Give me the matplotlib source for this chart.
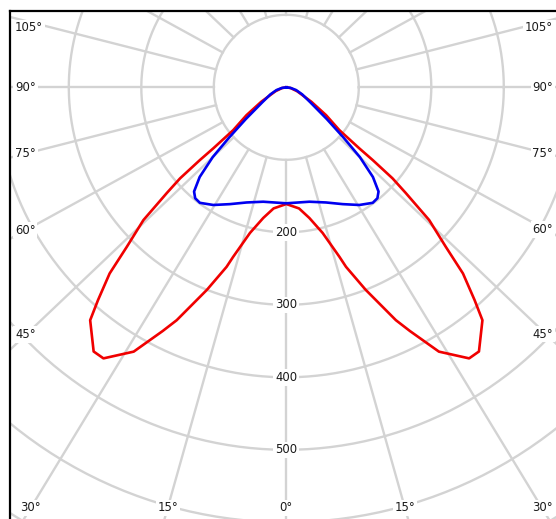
import numpy as np
import matplotlib
matplotlib.use("Agg")
import matplotlib.pyplot as plt

# luminous intensity, gamma measured from nadir (deg), one half of each plane
gamma_red = [0, 6, 10, 14, 17.4, 18.4, 21.4, 22.8, 25.2, 26.9, 30, 34, 36.1,
             40.1, 41.5, 43.5, 45, 47.1, 48.5, 49.4, 49.9, 50.1, 51.1, 55, 60, 70, 80, 90]
red_cd = [161, 168, 183, 207, 245, 261, 300, 318, 355, 377, 421, 451, 451,
          420, 392, 354, 311, 269, 220, 193, 156, 131, 94, 67, 40, 16, 6, 0]

gamma_blue = [0, 11.4, 19, 25.8, 31.8, 36.8, 39.4, 41.5, 44, 46.5, 48.7, 51.9, 58, 66, 74.3, 82, 90]
blue_cd = [160, 161, 168, 179, 191, 199, 198, 192, 172, 140, 105, 71, 39, 24, 14, 6, 0]

ring_values = [100, 200, 300, 400, 500, 600, 700, 800]
ring_labels = [200, 300, 400, 500]
angle_labels = [0, 15, 30, 45, 60, 75, 90, 105]
spoke_angles = list(range(0, 360, 15))

# picture geometry
W, H = 556, 519
CX, CY = 286.3, 87.3      # pole, pixels from top-left
SCALE = 0.725             # pixels per cd/klm
SQUISH = 0.95             # spokes are drawn slightly flattened
FRAME_L, FRAME_T = 10, 11
GRID = "#d3d3d3"
TXT = "#1a1a1a"
FS = 8.4


def to_data(xp, yp):
    return (xp - CX) / SCALE, (CY - yp) / SCALE


def spoke_dir(a):
    a = np.radians(a)
    d = np.array([np.sin(a), -SQUISH * np.cos(a)])
    return d / np.hypot(*d)


def half_curve(gamma, values):
    g = np.radians(np.asarray(gamma, float))
    r = np.asarray(values, float)
    return r * np.sin(g), -r * np.cos(g)


fig = plt.figure(figsize=(W / 100, H / 100), dpi=100)
ax = fig.add_axes([FRAME_L / W, 0, (W - FRAME_L) / W, (H - FRAME_T) / H])
x0, y1 = to_data(FRAME_L, FRAME_T)
x1, y0 = to_data(W, H)
ax.set_xlim(x0, x1)
ax.set_ylim(y0, y1)
ax.set_xticks([])
ax.set_yticks([])
for side in ["right", "bottom"]:
    ax.spines[side].set_visible(False)
for side in ["top", "left"]:
    ax.spines[side].set_linewidth(1.6)
    ax.spines[side].set_color("black")

# rings
t = np.linspace(0, 2 * np.pi, 400)
for r in ring_values:
    ax.plot(r * np.cos(t), r * np.sin(t), color=GRID, lw=1.7, zorder=1)

# spokes, starting from the first ring
for a in spoke_angles:
    d = spoke_dir(a)
    p0, p1 = 100 * d, 1200 * d
    ax.plot([p0[0], p1[0]], [p0[1], p1[1]], color=GRID, lw=1.7, zorder=1)

# curves: red plane first, blue plane on top
for gamma, vals, col in [(gamma_red, red_cd, "#f00000"), (gamma_blue, blue_cd, "#0000f0")]:
    hx, hy = half_curve(gamma, vals)
    xs = np.concatenate([-hx[::-1], hx])
    ys = np.concatenate([hy[::-1], hy])
    ax.plot(xs, ys, color=col, lw=1.9, solid_joinstyle="round", zorder=3)

bbox = dict(boxstyle="square,pad=0.15", fc="white", ec="none")

# intensity labels on the nadir spoke
for v in ring_labels:
    ax.text(0, -v, str(v), ha="center", va="center", fontsize=FS, color=TXT,
            bbox=bbox, zorder=4)

# angle labels where the spokes leave the frame
left_x, right_x, top_y, bot_y = 26, 546, 28, 508
for a in angle_labels:
    for sgn in ([1] if a == 0 else [-1, 1]):
        d = spoke_dir(a)
        dx, dy = sgn * d[0] * SCALE, -d[1] * SCALE   # pixel direction
        hits = []
        if dy > 0:
            hits.append(((bot_y - CY) / dy, "bottom"))
        if dx < 0:
            hits.append(((left_x - CX) / dx, "left"))
        if dx > 0:
            hits.append(((right_x - CX) / dx, "right"))
        s, edge = min(hits)
        xp, yp = CX + s * dx, max(CY + s * dy, top_y)
        if edge == "bottom":
            tx, ty = to_data(xp, bot_y)
            ha = "center"
        elif edge == "left":
            tx, ty = to_data(15, yp)
            ha = "left"
        else:
            tx, ty = to_data(553, yp)
            ha = "right"
        ax.text(tx, ty, f"{a}°", ha=ha, va="center", fontsize=FS, color=TXT,
                bbox=bbox, zorder=4, clip_on=False)

fig.savefig("out.png", dpi=100)
